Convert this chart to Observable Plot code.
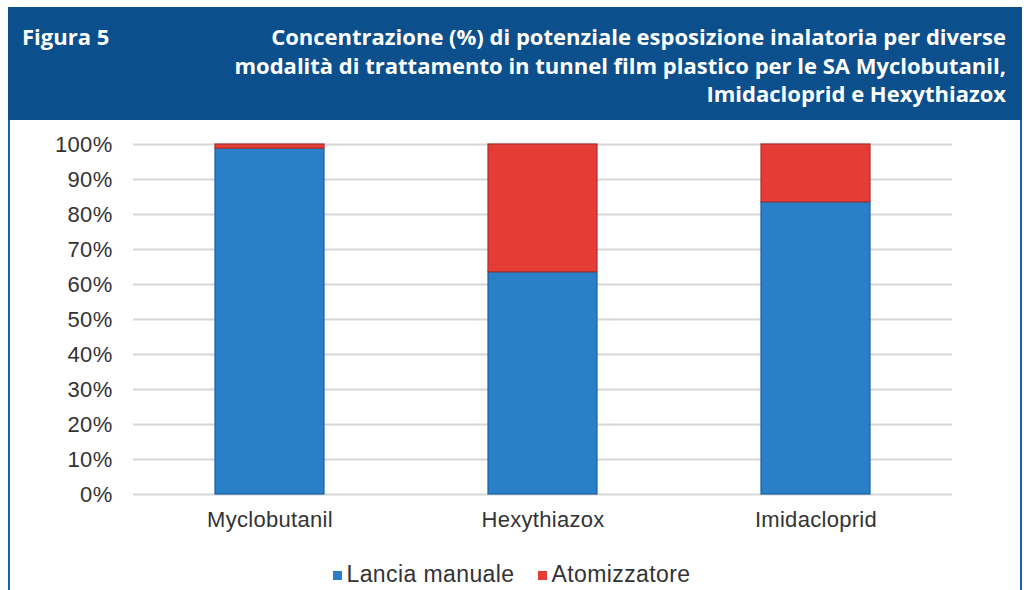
<!DOCTYPE html>
<html>
<head>
<meta charset="utf-8">
<script src="https://cdn.jsdelivr.net/npm/d3@7"></script>
<script src="https://cdn.jsdelivr.net/npm/@observablehq/plot@0.6"></script>
<style>
  html, body { margin: 0; padding: 0; background: #fff; width: 1024px; height: 590px; overflow: hidden; }
  #frame { position: absolute; left: 8px; top: 7px; width: 1010px; height: 600px; border-left: 2px solid #1c5fa6; border-right: 2px solid #1c5fa6; }
  #header { position: absolute; left: 8px; top: 7px; width: 1014px; height: 113px; background: #0b4f8c; color: #fff; font-family: "Open Sans", sans-serif; font-weight: 700; font-size: 22px; }
  #fig { position: absolute; left: 14px; top: 15px; line-height: 28.5px; }
  #title { position: absolute; right: 16px; top: 15px; text-align: right; line-height: 28.5px; width: 900px; }
  #chart { position: absolute; left: 10px; top: 120px; }
  #legend { position: absolute; left: 0; width: 1024px; top: 561px; text-align: center; font-family: "Liberation Sans", Arial, sans-serif; font-size: 23px; letter-spacing: 0.4px; color: #333; }
  #legend span.item { display: inline-block; margin: 0 12px; }
  #legend span.sw { display: inline-block; width: 9px; height: 9px; margin-right: 4px; vertical-align: 2px; }
</style>
</head>
<body>
<div id="frame"></div>
<div id="header">
  <div id="fig">Figura 5</div>
  <div id="title">Concentrazione (%) di potenziale esposizione inalatoria per diverse<br>modalità di trattamento in tunnel film plastico per le SA Myclobutanil,<br>Imidacloprid e Hexythiazox</div>
</div>
<div id="chart"></div>
<div id="legend"></div>
<script>
const categories = ["Myclobutanil", "Hexythiazox", "Imidacloprid"];
const series = ["Lancia manuale", "Atomizzatore"];
const lanciaManuale = [98.8, 63.5, 83.5];
const atomizzatore = [1.2, 36.5, 16.5];
const yTicks = [0, 10, 20, 30, 40, 50, 60, 70, 80, 90, 100];
const colors = ["#2a7fc9", "#e63c36"];
const strokes = ["#1a5f9e", "#a8302c"];

const data = [];
categories.forEach((c, i) => {
  data.push({cat: c, series: series[0], value: lanciaManuale[i]});
  data.push({cat: c, series: series[1], value: atomizzatore[i]});
});

const chart = Plot.plot({
  width: 1008,
  height: 430,
  marginTop: 24,
  marginBottom: 56,
  marginLeft: 123,
  marginRight: 66,
  style: {fontFamily: "'Liberation Sans', Arial, sans-serif", fontSize: "22px", color: "#333", background: "transparent", letterSpacing: "0.3px"},
  x: {domain: categories, paddingInner: 0.6, paddingOuter: 0.3, label: null},
  y: {domain: [0, 100], label: null},
  color: {domain: series, range: colors},
  marks: [
    Plot.ruleY(yTicks, {stroke: "#d6d6d6", strokeWidth: 2}),
    Plot.barY(data, Plot.stackY({order: series, x: "cat", y: "value", fill: "series", stroke: d => d.series === series[0] ? strokes[0] : strokes[1], strokeWidth: 1.2})),
    Plot.axisX({tickSize: 0, tickPadding: 17, fill: "#333"}),
    Plot.axisY({ticks: yTicks, tickFormat: d => d + "%", tickSize: 0, tickPadding: 21, fill: "#333"})
  ]
});
document.getElementById("chart").appendChild(chart);

const legend = document.getElementById("legend");
series.forEach((s, i) => {
  const item = document.createElement("span");
  item.className = "item";
  const sw = document.createElement("span");
  sw.className = "sw";
  sw.style.background = colors[i];
  item.appendChild(sw);
  item.appendChild(document.createTextNode(s));
  legend.appendChild(item);
});
</script>
</body>
</html>
